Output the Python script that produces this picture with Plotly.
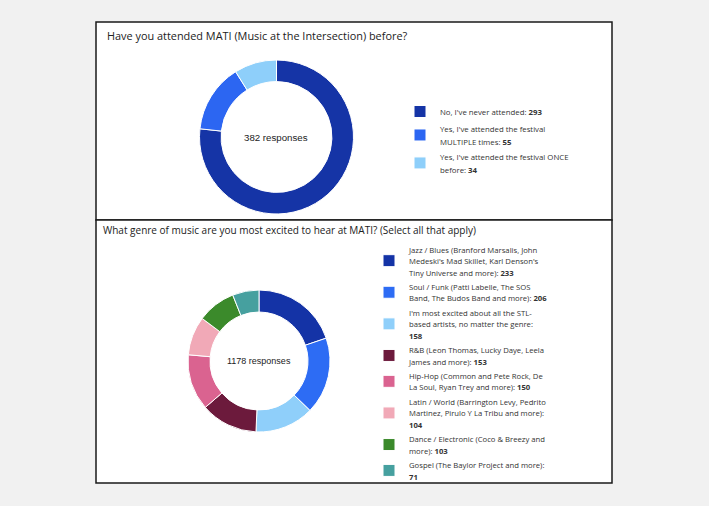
import plotly.graph_objects as go

W, H = 709, 506

# --- data -------------------------------------------------------------
q1_title = "Have you attended MATI (Music at the Intersection) before?"
q1_labels = [
    "No, I've never attended:",
    "Yes, I've attended the festival<br>MULTIPLE times:",
    "Yes, I've attended the festival ONCE<br>before:",
]
q1_values = [293, 55, 34]
q1_colors = ["#1534a6", "#2c66f2", "#8ecffa"]

q2_title = "What genre of music are you most excited to hear at MATI? (Select all that apply)"
q2_labels = [
    "Jazz / Blues (Branford Marsalis, John<br>Medeski's Mad Skillet, Karl Denson's<br>Tiny Universe and more):",
    "Soul / Funk (Patti Labelle, The SOS<br>Band, The Budos Band and more):",
    "I'm most excited about all the STL-<br>based artists, no matter the genre:<br>",
    "R&B (Leon Thomas, Lucky Daye, Leela<br>James and more):",
    "Hip-Hop (Common and Pete Rock, De<br>La Soul, Ryan Trey and more):",
    "Latin / World (Barrington Levy, Pedrito<br>Martinez, Pirulo Y La Tribu and more):<br>",
    "Dance / Electronic (Coco & Breezy and<br>more):",
    "Gospel (The Baylor Project and more):<br>",
]
q2_values = [233, 206, 158, 153, 150, 104, 103, 71]
q2_colors = ["#1433a6", "#2d6cf4", "#8fcffa", "#6c1a3c",
             "#da6390", "#f1a9b7", "#3b8a2b", "#46a09f"]


def px_x(v):
    return v / W


def px_y(v):
    return 1 - v / H


def legend_text(labels, values, size):
    out = []
    for lab, val in zip(labels, values):
        sep = "" if lab.endswith("<br>") else " "
        txt = lab + sep + "<b>" + str(val) + "</b>"
        out.append("<span style='font-size:%spx'>%s</span>" % (size, txt))
    return out


fig = go.Figure()

# top donut
fig.add_trace(go.Pie(
    labels=legend_text(q1_labels, q1_values, 7.8),
    values=q1_values,
    marker=dict(colors=q1_colors, line=dict(color="white", width=1)),
    hole=0.72, sort=False, direction="clockwise", rotation=0,
    textinfo="none", hoverinfo="value",
    domain=dict(x=[px_x(199.5), px_x(353.5)], y=[px_y(214), px_y(60)]),
    legend="legend",
))

# bottom donut
fig.add_trace(go.Pie(
    labels=legend_text(q2_labels, q2_values, 7.7),
    values=q2_values,
    marker=dict(colors=q2_colors, line=dict(color="white", width=1)),
    hole=0.69, sort=False, direction="clockwise", rotation=0,
    textinfo="none", hoverinfo="value",
    domain=dict(x=[px_x(188), px_x(330)], y=[px_y(432), px_y(290)]),
    legend="legend2",
))

# panel boxes
shapes = []
for y0, y1 in [(22, 220), (220, 483)]:
    shapes.append(dict(type="rect", xref="paper", yref="paper", layer="below",
                       x0=px_x(96), x1=px_x(612), y0=px_y(y1), y1=px_y(y0),
                       fillcolor="white", line=dict(color="#1a1a1a", width=1.5)))

annotations = [
    dict(text=q1_title, x=px_x(105), y=px_y(35), xanchor="left", yanchor="middle",
         font=dict(family="Open Sans", size=10.9, color="#222222")),
    dict(text=q2_title, x=px_x(101), y=px_y(230), xanchor="left", yanchor="middle",
         font=dict(family="Open Sans", size=10, color="#222222")),
    dict(text=f"{sum(q1_values)} responses", x=px_x(276), y=px_y(137),
         xanchor="center", yanchor="middle",
         font=dict(family="Liberation Sans", size=9.7, color="#222222")),
    dict(text=f"{sum(q2_values)} responses", x=px_x(259), y=px_y(361),
         xanchor="center", yanchor="middle",
         font=dict(family="Liberation Sans", size=9, color="#222222")),
]
for a in annotations:
    a.update(xref="paper", yref="paper", showarrow=False)

fig.update_layout(
    width=W, height=H,
    margin=dict(l=0, r=0, t=0, b=0),
    paper_bgcolor="#f1f1f1",
    plot_bgcolor="#f1f1f1",
    font=dict(family="Open Sans", color="#333333"),
    shapes=shapes,
    annotations=annotations,
    legend=dict(x=px_x(400), y=px_y(97), xanchor="left", yanchor="top",
                bgcolor="rgba(0,0,0,0)", font=dict(size=9.6, color="#333333")),
    legend2=dict(x=px_x(369), y=px_y(237), xanchor="left", yanchor="top",
                 bgcolor="rgba(0,0,0,0)", font=dict(size=8.8, color="#333333")),
)

# page body has a default 8px margin; drop it so the figure fills the window
fig.write_html("out.html", config={"displayModeBar": False},
               post_script="document.body.style.margin='0px';")
